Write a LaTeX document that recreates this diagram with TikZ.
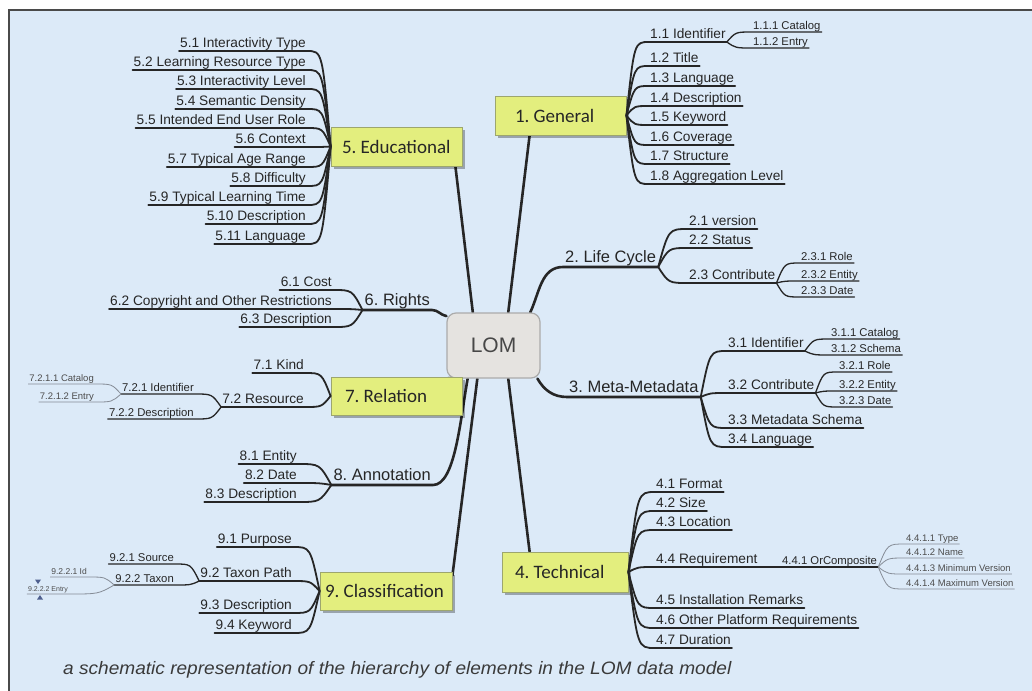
\documentclass[tikz,border=0pt]{standalone}
\usepackage{fontspec}
\usetikzlibrary{calc,shadows,backgrounds}
\newfontfamily\lsans{Liberation Sans}
\newfontfamily\capfont[FakeStretch=1.06]{Liberation Sans}
\newfontfamily\carl{Carlito}
\frenchspacing

\definecolor{bg}{HTML}{DCEAF8}
\definecolor{frameline}{HTML}{4A4A4A}
\definecolor{boxfill}{HTML}{E3EE7E}
\definecolor{boxline}{HTML}{9DA66E}
\definecolor{lomfill}{HTML}{E5E3E0}
\definecolor{lomline}{HTML}{ABABAB}
\definecolor{ink}{HTML}{262626}
\definecolor{inkgray}{HTML}{4C4C4C}
\definecolor{twig}{HTML}{858C96}
\definecolor{marker}{HTML}{4E5F8E}
\definecolor{capc}{HTML}{3A3A3A}

\tikzset{
  every node/.style={inner sep=0pt},
  rside/.style={anchor=south west},
  lside/.style={anchor=south east},
  lab1/.style={font=\lsans\fontsize{16.5}{18}\selectfont, text=ink, inner xsep=2pt, inner ysep=4.5pt, text depth=0pt},
  lab2/.style={font=\lsans\fontsize{13.7}{15}\selectfont, text=ink, inner xsep=1pt, inner ysep=3pt, text depth=0pt},
  lab3/.style={font=\lsans\fontsize{11.3}{13}\selectfont, text=ink, inner xsep=1pt, inner ysep=2.5pt, text depth=0pt},
  lab4/.style={font=\lsans\fontsize{9.5}{11}\selectfont, text=inkgray, inner xsep=1pt, inner ysep=2pt, text depth=0pt},
  conn/.style={draw=ink, line width=2.6pt, line cap=round},
  br2/.style={draw=ink, line width=1.8pt, line cap=round},
  br3/.style={draw=ink, line width=1.3pt, line cap=round},
  br4/.style={draw=twig, line width=0.8pt},
  topic/.style={draw=boxline, fill=boxfill, line width=0.8pt, minimum height=39pt,
    font=\carl\fontsize{19}{21}\selectfont, text=ink,
    drop shadow={shadow xshift=2.5pt, shadow yshift=-3pt, fill=black, opacity=0.3}},
  lom/.style={draw=lomline, fill=lomfill, line width=1.2pt, rounded corners=9pt,
    minimum width=93pt, minimum height=65pt, font=\lsans\fontsize{21}{24}\selectfont, text=ink!85}
}

% fan branch from a hub to a child label, ending in the child's underline
\newcommand\rfan[3][br2]{\draw[#1] (#2) .. controls ($(#2 |- #3.south west)!0.35!(#3.south west)$) .. (#3.south west) -- (#3.south east);}
\newcommand\lfan[3][br2]{\draw[#1] (#2) .. controls ($(#2 |- #3.south east)!0.35!(#3.south east)$) .. (#3.south east) -- (#3.south west);}

\begin{document}
\begin{tikzpicture}[x=1pt,y=-1pt]
\useasboundingbox (0,0) rectangle (1032,690);

% central topic and main topics
\node[lom] (LOM) at (493.5,345.5) {LOM};
\node[topic, inner xsep=20pt] (GEN) at (560.5,115.5) {\makebox[91pt][l]{1. General}};
\node[topic, inner xsep=11pt] (EDU) at (396.5,146.5) {\makebox[109pt][l]{5. Educational}};
\node[topic, inner xsep=14pt, minimum height=38pt] (REL) at (396.5,396) {\makebox[103pt][l]{7. Relation}};
\node[topic, inner xsep=5pt, minimum height=38pt] (CLA) at (386,591) {\makebox[122pt][l]{9. Classification}};
\node[topic, inner xsep=13pt, minimum height=40pt] (TEC) at (565,572) {\makebox[100pt][l]{4. Technical}};

\node[lab1, rside] (LC) at (563,267) {2. Life Cycle};
\node[lab1, rside] (MM) at (567,397) {3. Meta-Metadata};
\node[lab1, lside] (RI) at (432,310) {6. Rights};
\node[lab1, lside] (AN) at (433,485) {8. Annotation};

% 1. General
\node[lab2, rside] (g1) at (649,42) {1.1 Identifier};
\node[lab2, rside] (g2) at (649,66) {1.2 Title};
\node[lab2, rside] (g3) at (649,86) {1.3 Language};
\node[lab2, rside] (g4) at (649,106) {1.4 Description};
\node[lab2, rside] (g5) at (649,125) {1.5 Keyword};
\node[lab2, rside] (g6) at (649,145) {1.6 Coverage};
\node[lab2, rside] (g7) at (649,164) {1.7 Structure};
\node[lab2, rside] (g8) at (649,184) {1.8 Aggregation Level};
\node[lab3, rside] (g11) at (752,32) {1.1.1 Catalog};
\node[lab3, rside] (g12) at (752,48) {1.1.2 Entry};

% 2. Life Cycle
\node[lab2, rside] (c1) at (688,229) {2.1 version};
\node[lab2, rside] (c2) at (688,248) {2.2 Status};
\node[lab2, rside] (c3) at (688,283) {2.3 Contribute};
\node[lab3, rside] (c31) at (800,263) {2.3.1 Role};
\node[lab3, rside] (c32) at (800,281) {2.3.2 Entity};
\node[lab3, rside] (c33) at (800,297) {2.3.3 Date};

% 3. Meta-Metadata
\node[lab2, rside] (m1) at (727,351) {3.1 Identifier};
\node[lab2, rside] (m2) at (727,393) {3.2 Contribute};
\node[lab2, rside] (m3) at (727,428) {3.3 Metadata Schema};
\node[lab2, rside] (m4) at (727,447) {3.4 Language};
\node[lab3, rside] (m11) at (830,339) {3.1.1 Catalog};
\node[lab3, rside] (m12) at (830,355) {3.1.2 Schema};
\node[lab3, rside] (m21) at (838,372) {3.2.1 Role};
\node[lab3, rside] (m22) at (838,391) {3.2.2 Entity};
\node[lab3, rside] (m23) at (838,407) {3.2.3 Date};

% 4. Technical
\node[lab2, rside] (t1) at (655,492) {4.1 Format};
\node[lab2, rside] (t2) at (655,511) {4.2 Size};
\node[lab2, rside] (t3) at (655,530) {4.3 Location};
\node[lab2, rside] (t4) at (655,567) {4.4 Requirement};
\node[lab2, rside] (t5) at (655,608) {4.5 Installation Remarks};
\node[lab2, rside] (t6) at (655,628) {4.6 Other Platform Requirements};
\node[lab2, rside] (t7) at (655,648) {4.7 Duration};
\node[lab3, rside] (t41) at (781,567) {4.4.1 OrComposite};
\node[lab4, rside] (t411) at (905,544) {4.4.1.1 Type};
\node[lab4, rside] (t412) at (905,558) {4.4.1.2 Name};
\node[lab4, rside] (t413) at (905,574) {4.4.1.3 Minimum Version};
\node[lab4, rside] (t414) at (905,589) {4.4.1.4 Maximum Version};

% 5. Educational
\node[lab2, lside] (e1) at (307,51) {5.1 Interactivity Type};
\node[lab2, lside] (e2) at (307,70) {5.2 Learning Resource Type};
\node[lab2, lside] (e3) at (307,89) {5.3 Interactivity Level};
\node[lab2, lside] (e4) at (307,109) {5.4 Semantic Density};
\node[lab2, lside] (e5) at (307,128) {5.5 Intended End User Role};
\node[lab2, lside] (e6) at (307,147) {5.6 Context};
\node[lab2, lside] (e7) at (307,167) {5.7 Typical Age Range};
\node[lab2, lside] (e8) at (307,186) {5.8 Difficulty};
\node[lab2, lside] (e9) at (307,205) {5.9 Typical Learning Time};
\node[lab2, lside] (e10) at (307,224) {5.10 Description};
\node[lab2, lside] (e11) at (307,244) {5.11 Language};

% 6. Rights
\node[lab2, lside] (r1) at (333,290) {6.1 Cost};
\node[lab2, lside] (r2) at (333,309) {6.2 Copyright and Other Restrictions};
\node[lab2, lside] (r3) at (333,327) {6.3 Description};

% 7. Relation
\node[lab2, lside] (l1) at (305,373) {7.1 Kind};
\node[lab2, lside] (l2) at (305,407) {7.2 Resource};
\node[lab3, lside] (l21) at (195,394) {7.2.1 Identifier};
\node[lab3, lside] (l22) at (195,419) {7.2.2 Description};
\node[lab4, lside] (l211) at (95,384) {7.2.1.1 Catalog};
\node[lab4, lside] (l212) at (95,402) {7.2.1.2 Entry};

% 8. Annotation
\node[lab2, lside] (a1) at (298,464) {8.1 Entity};
\node[lab2, lside] (a2) at (298,483) {8.2 Date};
\node[lab2, lside] (a3) at (298,502) {8.3 Description};

% 9. Classification
\node[lab2, lside] (k1) at (293,547) {9.1 Purpose};
\node[lab2, lside] (k2) at (293,581) {9.2 Taxon Path};
\node[lab2, lside] (k3) at (293,613) {9.3 Description};
\node[lab2, lside] (k4) at (293,633) {9.4 Keyword};
\node[lab3, lside] (k21) at (175,564) {9.2.1 Source};
\node[lab3, lside] (k22) at (175,585) {9.2.2 Taxon};
\node[lab4, lside, font=\lsans\fontsize{8.5}{10}\selectfont] (k221) at (88,577) {9.2.2.1 Id};
\node[lab4, lside, font=\lsans\fontsize{7}{9}\selectfont] (k222) at (69,594) {9.2.2.2 Entry};

% caption
\node[anchor=base west, font=\capfont\itshape\fontsize{18}{21}\selectfont, text=capc] (cap) at (63,674)
  {a schematic representation of the hierarchy of elements in the LOM data model};

% branches
\foreach \c in {g1,g2,g3,g4,g5,g6,g7,g8} {\rfan{GEN.east}{\c}}
\foreach \c in {g11,g12} {\rfan[br3]{g1.south east}{\c}}
\foreach \c in {c1,c2,c3} {\rfan{LC.south east}{\c}}
\foreach \c in {c31,c32,c33} {\rfan[br3]{c3.south east}{\c}}
\foreach \c in {m1,m2,m3,m4} {\rfan{MM.south east}{\c}}
\foreach \c in {m11,m12} {\rfan[br3]{m1.south east}{\c}}
\foreach \c in {m21,m22,m23} {\rfan[br3]{m2.south east}{\c}}
\foreach \c in {t1,t2,t3,t4,t5,t6,t7} {\rfan{TEC.east}{\c}}
\draw[br3] (t4.south east) -- (t41.south west) -- (t41.south east);
\foreach \c in {t411,t412,t413,t414} {\rfan[br4]{t41.south east}{\c}}

\foreach \c in {e1,e2,e3,e4,e5,e6,e7,e8,e9,e10,e11} {\lfan{EDU.west}{\c}}
\foreach \c in {r1,r2,r3} {\lfan{RI.south west}{\c}}
\foreach \c in {l1,l2} {\lfan{REL.west}{\c}}
\foreach \c in {l21,l22} {\lfan[br3]{l2.south west}{\c}}
\foreach \c in {l211,l212} {\lfan[br4]{l21.south west}{\c}}
\foreach \c in {a1,a2,a3} {\lfan{AN.south west}{\c}}
\foreach \c in {k1,k2,k3,k4} {\lfan{CLA.west}{\c}}
\foreach \c in {k21,k22} {\lfan[br3]{k2.south west}{\c}}
\foreach \c in {k221,k222} {\lfan[br4]{k22.south west}{\c}}

% selection markers beside 9.2.2.2
\fill[marker] (35,579.5) -- (41,579.5) -- (38,584) -- cycle;
\fill[marker] (37,599.5) -- (43,599.5) -- (40,595) -- cycle;

\begin{pgfonlayer}{background}
  \fill[white] (0,0) rectangle (1032,690);
  \draw[fill=bg, draw=frameline, line width=2pt] (9,10) rectangle (1050,710);
  % connectors from the central topic
  \draw[conn] (LOM.122) -- ([xshift=-7pt]EDU.south east);
  \draw[conn] (LOM.66) -- ([xshift=35pt]GEN.south west);
  \draw[conn] (LOM.42) to[out=65,in=180] (LC.south west) -- (LC.south east);
  \draw[conn] (LOM.-37) to[out=-60,in=180] (MM.south west) -- (MM.south east);
  \draw[conn] (LOM.-66) -- ([xshift=28pt]TEC.north west);
  \draw[conn] (LOM.244) -- ([yshift=-4pt]CLA.north east);
  \draw[conn] (LOM.232) to[out=-100,in=0,out looseness=1,in looseness=0.5] (AN.south east) -- (AN.south west);
  \draw[conn] (LOM.148) to[out=170,in=0] (RI.south east) -- (RI.south west);
  \draw[conn] (LOM.215) -- (REL.north east);
\end{pgfonlayer}
\end{tikzpicture}
\end{document}
